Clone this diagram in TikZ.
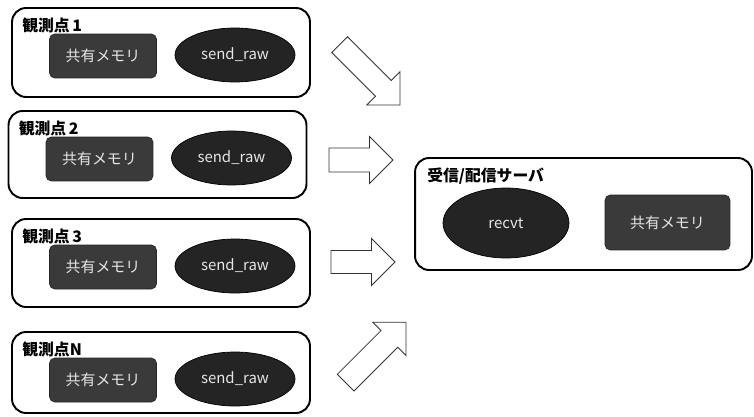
\documentclass[tikz,border=0pt]{standalone}
\usepackage{fontspec}
\setmainfont{Noto Sans CJK JP}
\usetikzlibrary{shapes.geometric}
\definecolor{memfill}{HTML}{3A3A3A}
\definecolor{procfill}{HTML}{242424}
\definecolor{textgray}{HTML}{E6E6E6}
\tikzset{
  station/.style={draw=black, line width=1.1pt, rounded corners=8pt, inner sep=0pt},
  boxtitle/.style={anchor=west, inner sep=0pt, font=\fontsize{9}{10}\selectfont\bfseries},
  shmem/.style={draw=black!85, fill=memfill, rounded corners=3pt, text=textgray,
    minimum width=2.14cm, minimum height=0.88cm, font=\fontsize{8.5}{10}\selectfont},
  proc/.style={ellipse, draw=black, fill=procfill, text=textgray, inner sep=0pt,
    font=\fontsize{8.5}{10}\selectfont},
  fatarrow/.style={draw=black!80, line width=0.5pt, fill=white}
}
% block arrow: tip, angle, length, shaft half-width
\newcommand{\fatarrow}[4]{%
  \draw[fatarrow, shift={#1}, rotate=#2] (-#3,-#4) -- (-23.5,-#4) -- (-23.5,-23.5)
    -- (0,0) -- (-23.5,23.5) -- (-23.5,#4) -- (-#3,#4) -- cycle;}
\begin{document}
\begin{tikzpicture}[x=0.02cm, y=-0.02cm]
\useasboundingbox (0,0) rectangle (754,416);
% observation points
\foreach \i/\x/\y/\h in {1/161/52.5/89, 2/157.5/154.5/87, 3/161/263/88, N/161/372.5/81} {
  \node[station, minimum width=5.96cm, minimum height=\h*0.02cm] (st\i) at (\x,\y) {};
  \node[boxtitle] (title\i) at ({\x-139},{\y-\h/2+17}) {観測点\if N\i\else\,\fi\i};
  \node[shmem] (mem\i) at ({\x-58},{\y-\h/2+48}) {共有メモリ};
  \node[proc, minimum width=2.4cm, minimum height=1.08cm] (send\i) at ({\x+74},{\y-\h/2+47}) {send\_raw};
}
% server
\node[station, minimum width=6.74cm, minimum height=2.24cm] (srv) at (583.5,214) {};
\node[boxtitle] (srvtitle) at (427,176) {受信/配信サーバ};
\node[proc, minimum width=2.52cm, minimum height=1.4cm] (recvt) at (506,223) {recvt};
\node[shmem, minimum width=2.5cm, minimum height=1.1cm] (srvmem) at (667.5,222.5) {共有メモリ};
% arrows
\fatarrow{(400,105)}{-45}{85.4}{11.2}
\fatarrow{(393,160)}{0}{64}{12}
\fatarrow{(395,262)}{0}{64}{11.5}
\fatarrow{(406,322.3)}{45}{85.3}{11.8}
\end{tikzpicture}
\end{document}
